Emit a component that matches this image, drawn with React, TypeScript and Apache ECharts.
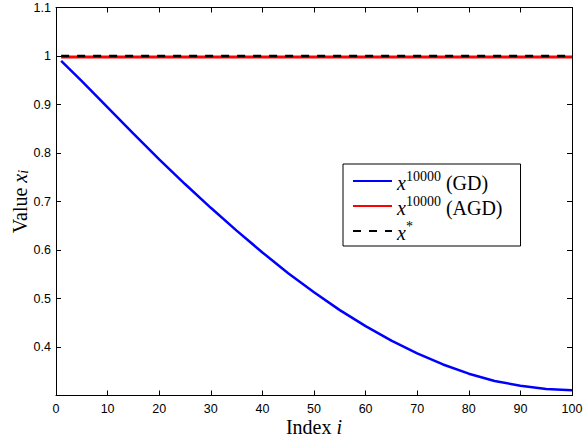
import React, { useEffect, useRef } from "react";
import * as echarts from "echarts";

// Blue curve: x^10000 (GD), read at selected indices i
const gdIndex = [1, 5, 10, 15, 20, 25, 30, 35, 40, 45, 50, 55, 60, 65, 70, 75, 80, 85, 90, 95, 100];
const gdValues = [0.99, 0.948, 0.894, 0.84, 0.787, 0.736, 0.687, 0.64, 0.595, 0.552, 0.513, 0.476, 0.443, 0.413, 0.387, 0.364, 0.345, 0.33, 0.32, 0.3135, 0.311];
// Red line: x^10000 (AGD)
const agdIndex = [1, 25, 50, 75, 100];
const agdValues = [0.998, 0.998, 0.998, 0.998, 0.998];
// Black dashed: x*
const starIndex = [1, 50, 100];
const starValues = [1, 1, 1];

const seriesNames = ["GD", "AGD", "x*"];
const legendLabels: Record<string, string> = {
  GD: "{x|x}{s|10000}{r| (GD)}",
  AGD: "{x|x}{s|10000}{r| (AGD)}",
  "x*": "{x|x}{s|*}",
};

const serif = "'Liberation Serif', 'Times New Roman', serif";
const sans = "'Liberation Sans', Arial, Helvetica, sans-serif";

export default function App() {
  const ref = useRef<HTMLDivElement>(null);
  useEffect(() => {
    document.body.style.margin = "0";
    if (!ref.current) return;
    const chart = echarts.init(ref.current, null, { renderer: "svg" });
    const axisLine = { show: true, onZero: false, lineStyle: { color: "#000", width: 1 } };
    const axisTick = { show: true, inside: true, length: 5, lineStyle: { color: "#000", width: 1 } };
    const tickLabel = { fontSize: 12.5, color: "#000", fontFamily: sans };
    const option: any = {
      animation: false,
      backgroundColor: "#fff",
      grid: { left: 56, right: 11, top: 7.5, bottom: 42.5, containLabel: false, outerBoundsMode: "none" },
      legend: {
        data: seriesNames,
        orient: "vertical",
        left: 343,
        top: 164,
        padding: [5, 18, 3, 9],
        itemGap: 1,
        itemWidth: 39,
        itemHeight: 20,
        backgroundColor: "#fff",
        borderColor: "#000",
        borderWidth: 1,
        borderRadius: 0,
        selectedMode: false,
        itemStyle: { opacity: 0, borderWidth: 0 },
        formatter: (name: string) => legendLabels[name] ?? name,
        textStyle: {
          color: "#000",
          fontFamily: serif,
          rich: {
            x: { fontFamily: serif, fontStyle: "italic", fontSize: 20, lineHeight: 24, verticalAlign: "bottom", color: "#000" },
            s: { fontFamily: serif, fontSize: 14, lineHeight: 14, verticalAlign: "top", color: "#000" },
            r: { fontFamily: serif, fontSize: 20, lineHeight: 24, verticalAlign: "bottom", color: "#000" },
          },
        },
      },
      xAxis: [
        {
          type: "value",
          min: 0,
          max: 100,
          interval: 10,
          position: "bottom",
          axisLine,
          axisTick,
          splitLine: { show: false },
          axisLabel: { ...tickLabel, margin: 7 },
          name: "{r|Index }{i|i}",
          nameLocation: "middle",
          nameGap: 22.5,
          nameMoveOverlap: false,
          nameTextStyle: {
            color: "#000",
            fontFamily: serif,
            rich: {
              r: { fontFamily: serif, fontSize: 20, lineHeight: 17, color: "#000" },
              i: { fontFamily: serif, fontStyle: "italic", fontSize: 20, lineHeight: 17, color: "#000" },
            },
          },
        },
        {
          type: "value",
          min: 0,
          max: 100,
          interval: 10,
          position: "top",
          axisLine,
          axisTick,
          splitLine: { show: false },
          axisLabel: { show: false },
        },
      ],
      yAxis: [
        {
          type: "value",
          min: 0.3,
          max: 1.1,
          interval: 0.1,
          position: "left",
          axisLine,
          axisTick,
          splitLine: { show: false },
          axisLabel: { ...tickLabel, margin: 5, showMinLabel: false },
          name: "{r|Value }{x|x}{i|i}",
          nameLocation: "middle",
          nameRotate: 90,
          nameGap: 26,
          nameMoveOverlap: false,
          nameTextStyle: {
            color: "#000",
            fontFamily: serif,
            rich: {
              r: { fontFamily: serif, fontSize: 20, lineHeight: 20, verticalAlign: "top", color: "#000" },
              x: { fontFamily: serif, fontStyle: "italic", fontSize: 20, lineHeight: 20, verticalAlign: "top", color: "#000" },
              i: { fontFamily: serif, fontStyle: "italic", fontSize: 14, lineHeight: 14, padding: [10, 0, 0, 0], verticalAlign: "bottom", color: "#000" },
            },
          },
        },
        {
          type: "value",
          min: 0.3,
          max: 1.1,
          interval: 0.1,
          position: "right",
          axisLine,
          axisTick,
          splitLine: { show: false },
          axisLabel: { show: false },
        },
      ],
      series: [
        {
          name: "GD",
          type: "line",
          xAxisIndex: 0,
          yAxisIndex: 0,
          symbol: "none",
          lineStyle: { color: "#0000ff", width: 2.5 },
          itemStyle: { color: "#0000ff" },
          data: gdIndex.map((x, k) => [x, gdValues[k]]),
        },
        {
          name: "AGD",
          type: "line",
          xAxisIndex: 0,
          yAxisIndex: 0,
          symbol: "none",
          lineStyle: { color: "#ff0000", width: 3 },
          itemStyle: { color: "#ff0000" },
          data: agdIndex.map((x, k) => [x, agdValues[k]]),
        },
        {
          name: "x*",
          type: "line",
          xAxisIndex: 0,
          yAxisIndex: 0,
          symbol: "none",
          lineStyle: { color: "#000000", width: 2.5, type: [8, 8] },
          itemStyle: { color: "#000000" },
          data: starIndex.map((x, k) => [x, starValues[k]]),
        },
      ],
    };
    chart.setOption(option);
    return () => chart.dispose();
  }, []);
  return <div ref={ref} style={{ width: 583, height: 438 }} />;
}
